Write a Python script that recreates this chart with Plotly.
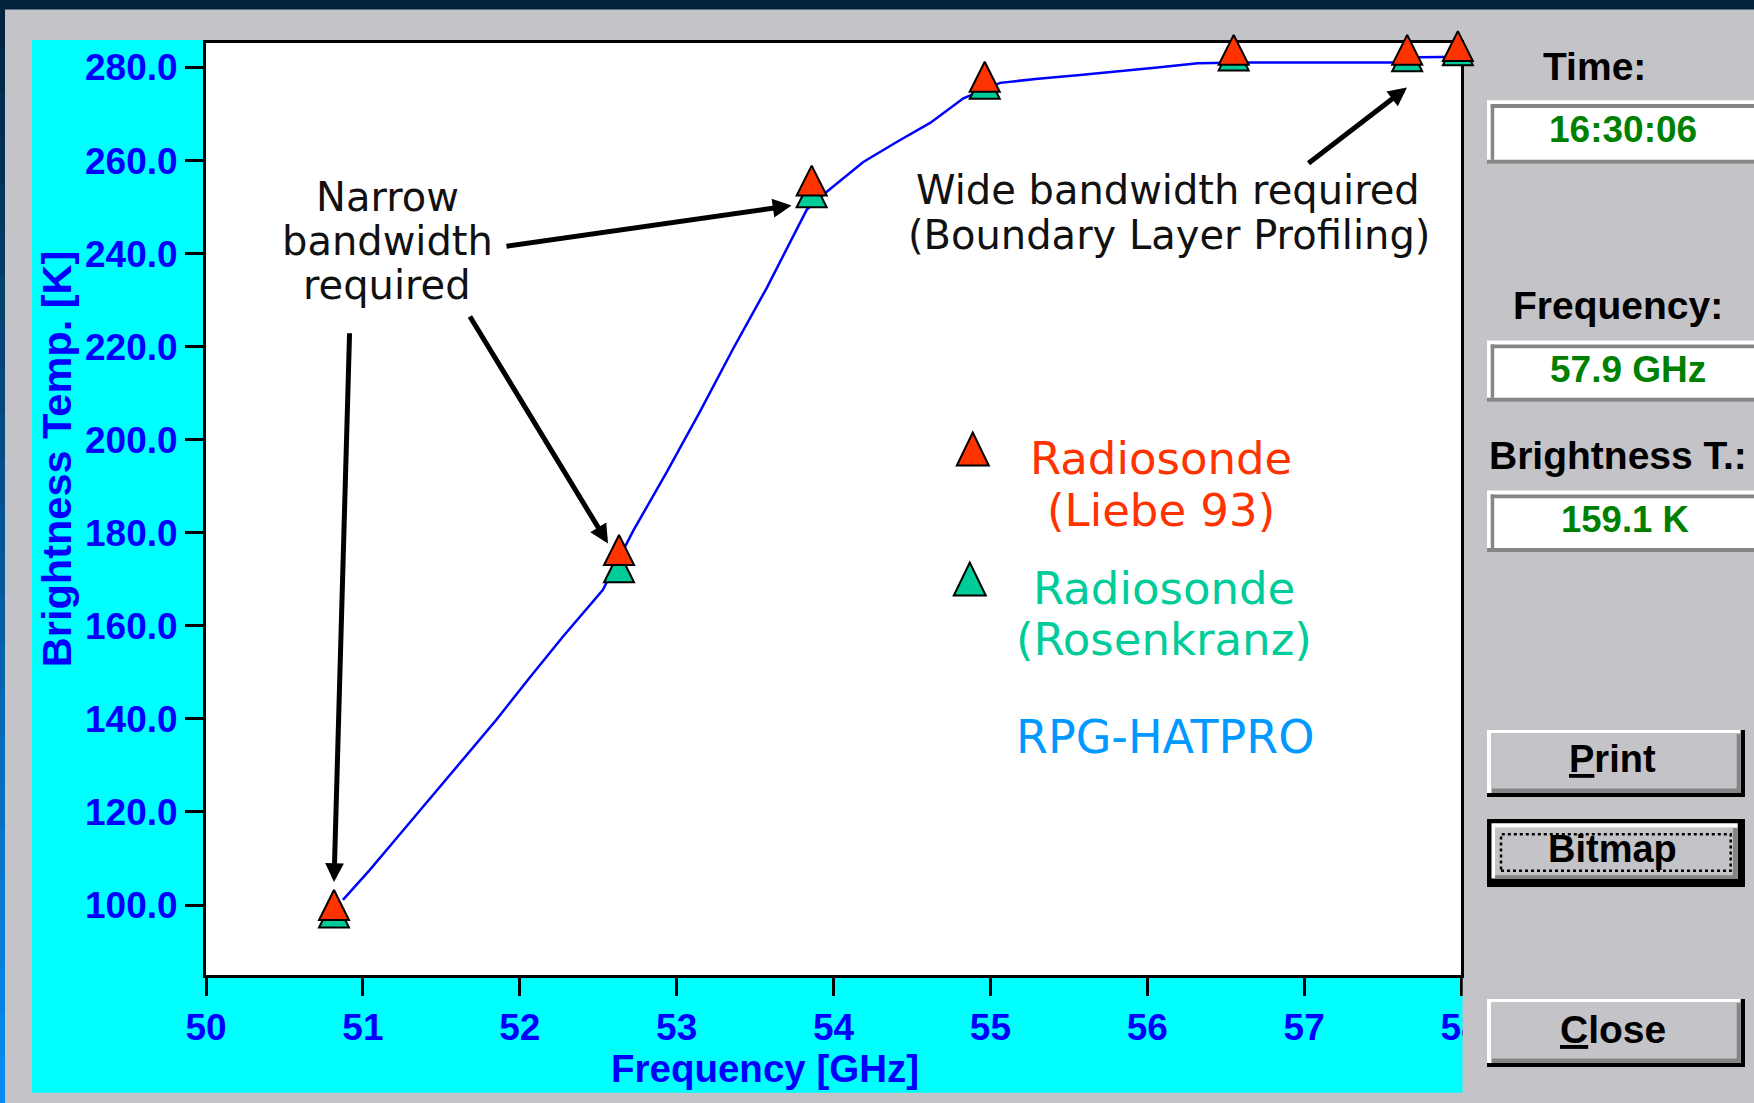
import plotly.graph_objects as go

# ------------------------------------------------------------------ data
# RPG-HATPRO brightness-temperature spectrum (blue line)
hatpro_freq = [50.873, 51.043, 51.213, 51.426, 51.638, 51.851, 52.064, 52.276,
               52.529, 52.723, 52.936, 53.148, 53.361, 53.574, 53.829, 53.957,
               54.190, 54.403, 54.616, 54.828, 55.062, 55.304, 55.572, 55.807,
               56.064, 56.322, 56.622, 57.563, 57.735, 58.000]
hatpro_tb = [101.1, 107.5, 114.3, 122.8, 131.4, 139.8, 148.9, 157.7,
             167.7, 180.4, 193.0, 206.0, 219.6, 232.6, 249.4, 253.3,
             259.7, 264.0, 268.1, 273.4, 276.7, 277.6, 278.4, 279.1,
             280.0, 280.9, 281.1, 281.1, 282.2, 282.3]

# Radiosonde-derived channel values
sonde_freq = [50.816, 52.633, 53.861, 54.964, 56.551, 57.657, 57.980]
sonde_liebe = [100.0, 176.3, 255.7, 278.0, 283.8, 283.8, 284.6]
sonde_rosen = [98.4, 172.6, 253.2, 276.5, 282.6, 282.4, 283.7]

x_tick_vals = [50, 51, 52, 53, 54, 55, 56, 57, 58]
y_tick_vals = [100, 120, 140, 160, 180, 200, 220, 240, 260, 280]

info_time = "16:30:06"
info_freq = "57.9 GHz"
info_tb = "159.1 K"

# ------------------------------------------------------------------ geometry
W, H = 1754, 1103
PL, PR, PT, PB = 206, 1461, 43, 975

BLUE = "#0000FF"
RED = "#FF3300"
GREEN = "#00CC99"
LBLUE = "#0099FF"
CYAN = "#00FFFF"
FACE = "#C4C3C7"
DARK = "#858585"
BOLDF = "Liberation Sans, Arial, sans-serif"
TEXTF = "DejaVu Sans, Verdana, sans-serif"


def px(x):
    return (x - PL) / (PR - PL)


def py(y):
    return (PB - y) / (PB - PT)


def rect(x0, y0, x1, y1, color, layer="above", line=None):
    return dict(type="rect", xref="paper", yref="paper",
                x0=px(x0), x1=px(x1), y0=py(y1), y1=py(y0),
                fillcolor=color, layer=layer,
                line=line if line else dict(width=0))


def tri(cx, cy, color, w=32, h=33):
    path = (f"M {px(cx)} {py(cy - h / 2)} L {px(cx - w / 2)} {py(cy + h / 2)} "
            f"L {px(cx + w / 2)} {py(cy + h / 2)} Z")
    return dict(type="path", xref="paper", yref="paper", path=path,
                fillcolor=color, line=dict(color="black", width=2), layer="above")


def text(x, y, s, size, color="black", family=TEXTF, weight="normal", angle=0):
    return dict(xref="paper", yref="paper", x=px(x), y=py(y), text=s,
                showarrow=False, xanchor="center", yanchor="middle",
                textangle=angle,
                font=dict(family=family, size=size, color=color, weight=weight))


def arrow(tx, ty, hx, hy):
    return dict(xref="paper", yref="paper", x=px(hx), y=py(hy), text="",
                showarrow=True, axref="pixel", ayref="pixel",
                ax=tx - hx, ay=ty - hy, arrowhead=2, arrowsize=0.75,
                arrowwidth=5, arrowcolor="black", standoff=0)


def button(x0, y0, x1, y1, default=False):
    if default:
        return [rect(x0, y0, x1, y1, "black"),
                rect(x0 + 4.5, y0 + 4.3, x1 - 7.3, y1 - 8.4, "white"),
                rect(x0 + 8, y0 + 8.7, x1 - 7.3, y1 - 8.4, DARK),
                rect(x0 + 8, y0 + 8.7, x1 - 12, y1 - 11.7, FACE)]
    return [rect(x0, y0, x1, y1, "black"),
            rect(x0, y0, x1 - 4.3, y1 - 4, "white"),
            rect(x0 + 4.5, y0 + 3.4, x1 - 4.3, y1 - 4, DARK),
            rect(x0 + 4.5, y0 + 3.4, x1 - 8.3, y1 - 8.5, FACE)]


def field(y0, y1):
    return [rect(1487, y0, W, y1, "white"),
            rect(1490.7, y0 + 3.8, W, y0 + 7.6, DARK),
            rect(1490.7, y0 + 3.8, 1494.2, y1 - 4, DARK),
            rect(1487, y1 - 4, W, y1, DARK)]


shapes = []
# window frame
shapes.append(rect(0, 0, W, 9.5, "#02243F", layer="below"))
steps = 24
c0, c1 = (2, 36, 63), (8, 138, 240)
for i in range(steps):
    t = i / (steps - 1)
    col = "rgb(%d,%d,%d)" % tuple(round(a + (b - a) * t) for a, b in zip(c0, c1))
    shapes.append(rect(0, H * i / steps, 5, H * (i + 1) / steps + 1, col, layer="below"))
# cyan chart panel and white plotting area
shapes.append(rect(32, 40, 1462.7, 1092.7, CYAN, layer="below"))
shapes.append(rect(PL, PT, PR, PB, "white", layer="below"))
# cover for clipped last tick label
shapes.append(rect(1462.7, 978, W, 1100, FACE))
# info fields
shapes += field(100.3, 163.8)
shapes += field(340.6, 401.8)
shapes += field(490.6, 551.9)
# buttons
shapes += button(1487, 730, 1745, 797)
shapes += button(1487, 819, 1745, 887, default=True)
shapes.append(rect(1501, 834.3, 1730.7, 870.7, "rgba(0,0,0,0)",
                   line=dict(color="black", width=2.5, dash="dot")))
shapes += button(1487, 999, 1745, 1067)
# legend keys
shapes.append(tri(972.8, 449, RED))
shapes.append(tri(969.8, 579, GREEN))

annotations = [
    # axis titles
    text(764.8, 1068, "Frequency [GHz]", 38.5, BLUE, BOLDF, "bold"),
    text(56.2, 459, "Brightness Temp. [K]", 41.5, BLUE, BOLDF, "bold", angle=-90),
    # notes
    text(387.5, 196.8, "Narrow", 40, "#111111"),
    text(387.5, 240.8, "bandwidth", 40, "#111111"),
    text(387.3, 285.2, "required", 40, "#111111"),
    text(1168, 190.5, "Wide bandwidth required", 40, "#111111"),
    text(1169, 235.2, "(Boundary Layer Profiling)", 40, "#111111"),
    # legend
    text(1161, 458.2, "Radiosonde", 45, RED),
    text(1161, 510.5, "(Liebe 93)", 45, RED),
    text(1164, 588.3, "Radiosonde", 45, GREEN),
    text(1163.6, 639, "(Rosenkranz)", 45, GREEN),
    text(1165, 736.7, "RPG-HATPRO", 46, LBLUE),
    # arrows
    arrow(505, 246.5, 791.5, 205.5),
    arrow(469, 315, 608, 543.5),
    arrow(349.6, 331.7, 334, 882),
    arrow(1307, 164.3, 1407, 87.5),
    # info panel
    text(1594, 66.4, "Time:", 39, "black", BOLDF, "bold"),
    text(1622.5, 129.7, info_time, 37, "#008000", BOLDF, "bold"),
    text(1618, 305.8, "Frequency:", 39, "black", BOLDF, "bold"),
    text(1627.5, 369.3, info_freq, 37, "#008000", BOLDF, "bold"),
    text(1617.5, 455.4, "Brightness T.:", 39, "black", BOLDF, "bold"),
    text(1624.7, 519.7, info_tb, 36.5, "#008000", BOLDF, "bold"),
    text(1612.5, 759, "<u>P</u>rint", 38, "black", BOLDF, "bold"),
    text(1612.5, 849, "Bitmap", 38, "black", BOLDF, "bold"),
    text(1613, 1029, "<u>C</u>lose", 39, "black", BOLDF, "bold"),
]

fig = go.Figure()
fig.add_trace(go.Scatter(x=hatpro_freq, y=hatpro_tb, mode="lines",
                         line=dict(color=BLUE, width=2.5), hoverinfo="skip",
                         name="RPG-HATPRO"))
tri_marker = dict(symbol="arrow-down", angle=180, standoff=15, size=30,
                  line=dict(color="black", width=2))
fig.add_trace(go.Scatter(x=sonde_freq, y=sonde_rosen, mode="markers",
                         marker=dict(color=GREEN, **tri_marker), cliponaxis=False,
                         name="Radiosonde (Rosenkranz)"))
fig.add_trace(go.Scatter(x=sonde_freq, y=sonde_liebe, mode="markers",
                         marker=dict(color=RED, **tri_marker), cliponaxis=False,
                         name="Radiosonde (Liebe 93)"))

axis_common = dict(showline=True, linecolor="black", linewidth=3, mirror=True,
                   ticks="outside", ticklen=18, tickwidth=3, tickcolor="black",
                   showgrid=False, zeroline=False, layer="below traces",
                   tickfont=dict(family=BOLDF, size=37, color=BLUE, weight="bold"))

fig.update_layout(
    width=W, height=H, autosize=False,
    margin=dict(l=PL, r=W - PR, t=PT, b=H - PB, pad=0),
    paper_bgcolor=FACE, plot_bgcolor="rgba(0,0,0,0)",
    showlegend=False,
    xaxis=dict(range=[50, 58], tickvals=x_tick_vals, tickformat="d", **axis_common),
    yaxis=dict(range=[84.955, 285.27], tickvals=y_tick_vals, tickformat=".1f",
               **axis_common),
    shapes=shapes,
    annotations=annotations,
)

fig.write_html("out.html", config={"displayModeBar": False},
               post_script="document.body.style.margin='0';document.body.style.overflow='hidden';")
